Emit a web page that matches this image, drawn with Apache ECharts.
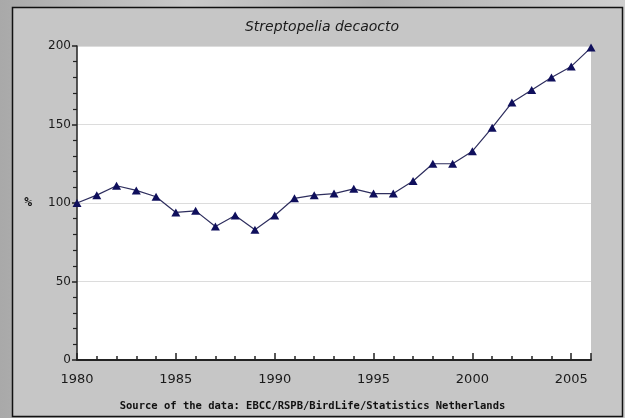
<!DOCTYPE html>
<html>
<head>
<meta charset="utf-8">
<script src="https://cdn.jsdelivr.net/npm/echarts@6/dist/echarts.min.js"></script>
<style>
html,body{margin:0;padding:0;background:#b4b4b4;}
#c{width:625px;height:418px;background:linear-gradient(90deg,#a9a9a9 0%,#c9c9c9 30%,#b0b0b0 60%,#cfcfcf 100%);}
</style>
</head>
<body>
<div id="c"></div>
<script>
const titleText = 'Streptopelia decaocto';
const sourceText = 'Source of the data: EBCC/RSPB/BirdLife/Statistics Netherlands';
const years = [1980,1981,1982,1983,1984,1985,1986,1987,1988,1989,1990,1991,1992,1993,1994,1995,1996,1997,1998,1999,2000,2001,2002,2003,2004,2005,2006];
const values = [100,105,111,108,104,94,95,85,92,83,92,103,105,106,109,106,106,114,125,125,133,148,164,172,180,187,199];
const yTicks = [0,50,100,150,200];

const chart = echarts.init(document.getElementById('c'), null, {renderer:'canvas'});
chart.setOption({
  animation:false,
  backgroundColor:'transparent',
  graphic:[
    {type:'rect', z:-10, shape:{x:12.5,y:7.5,width:610,height:409}, style:{fill:'#c6c6c6', stroke:'#111', lineWidth:1.5}},
    {type:'text', left:'center', top:401, style:{text:sourceText, font:'bold 10.5px "DejaVu Sans Mono", monospace', fill:'#111'}}
  ],
  title:{
    text:titleText, left:317, textAlign:'center', top:15,
    textStyle:{fontFamily:'DejaVu Sans', fontStyle:'italic', fontWeight:'normal', fontSize:14, color:'#1a1a1a'}
  },
  grid:{left:77, right:34, top:46, bottom:58, show:true, backgroundColor:'#ffffff', borderWidth:0},
  xAxis:{
    type:'value', min:years[0], max:years[years.length-1], interval:5,
    axisLine:{show:true, onZero:false, lineStyle:{color:'#222', width:2}},
    axisTick:{show:true, inside:true, length:7, lineStyle:{color:'#222', width:1.5}},
    minorTick:{show:true, splitNumber:5, length:4, lineStyle:{color:'#222', width:1.5}},
    axisLabel:{showMaxLabel:false, margin:13, fontFamily:'DejaVu Sans', fontSize:13, color:'#1a1a1a', formatter:v=>String(v)},
    splitLine:{show:false}
  },
  yAxis:{
    type:'value', min:yTicks[0], max:yTicks[yTicks.length-1], interval:50,
    name:'%', nameLocation:'middle', nameGap:45, nameRotate:0,
    nameTextStyle:{fontFamily:'DejaVu Sans Mono', fontWeight:'bold', fontSize:13, color:'#111'},
    axisLine:{show:true, lineStyle:{color:'#222', width:1.5}},
    axisTick:{show:true, length:5, lineStyle:{color:'#222', width:1.5}},
    minorTick:{show:true, splitNumber:5, length:4, lineStyle:{color:'#222', width:1.2}},
    axisLabel:{margin:6, fontFamily:'DejaVu Sans', fontSize:12, color:'#1a1a1a'},
    splitLine:{show:true, lineStyle:{color:'#dcdcdc', width:1}}
  },
  series:[{
    type:'line',
    data:years.map((y,i)=>[y,values[i]]),
    symbol:'triangle', symbolSize:[9,8],
    itemStyle:{color:'#0f0f5c'},
    lineStyle:{color:'#2e2e5e', width:1.2}
  }]
});
</script>
</body>
</html>
